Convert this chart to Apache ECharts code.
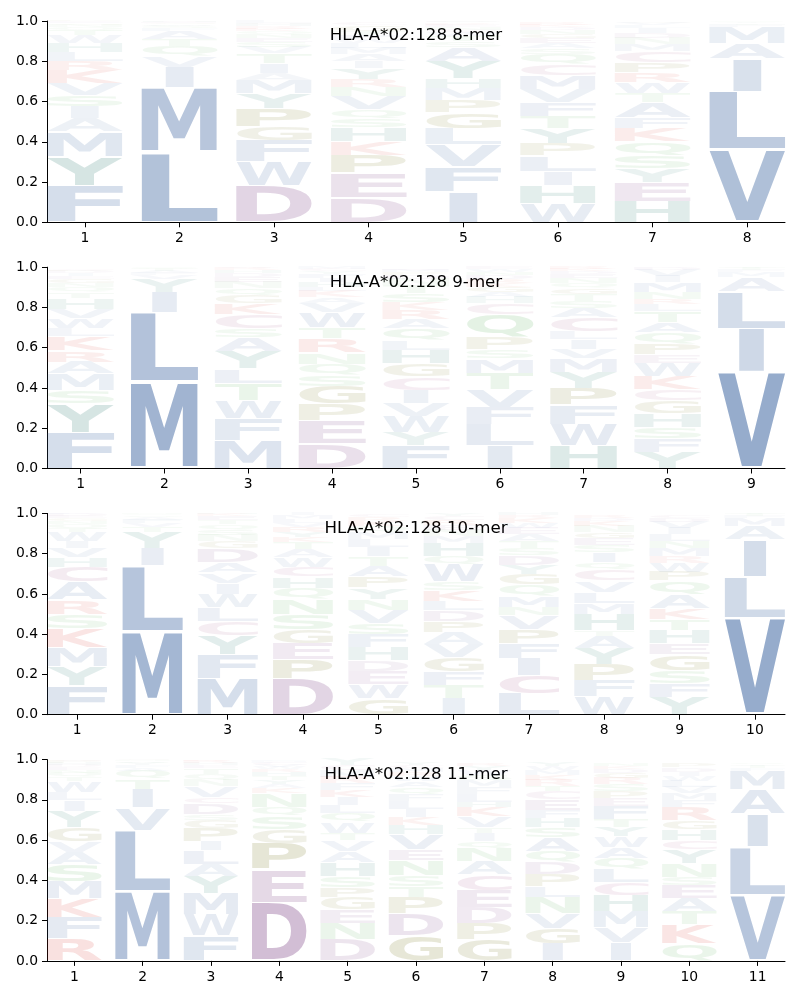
<!DOCTYPE html>
<html>
<head>
<meta charset="utf-8">
<script src="https://cdn.jsdelivr.net/npm/echarts@6/dist/echarts.min.js"></script>
<style>
html,body{margin:0;padding:0;background:#ffffff;}
#chart{width:800px;height:1000px;}
</style>
</head>
<body>
<div id="chart"></div>
<script>
// ---------------- DATA ----------------
const panelTitles = ['HLA-A*02:128 8-mer', 'HLA-A*02:128 9-mer', 'HLA-A*02:128 10-mer', 'HLA-A*02:128 11-mer'];
const yTickLabels = ['0.0', '0.2', '0.4', '0.6', '0.8', '1.0'];
const xTickLabels8 = ['1','2','3','4','5','6','7','8'];
const xTickLabels9 = ['1','2','3','4','5','6','7','8','9'];
const xTickLabels10 = ['1','2','3','4','5','6','7','8','9','10'];
const xTickLabels11 = ['1','2','3','4','5','6','7','8','9','10','11'];

// letters of each position, stacked bottom -> top
const seq8 = [
  'FYMAISVKRLHWTQNGEDPC',
  'LMIVQTAFSWGECH',
  'DWFGPYMAITVSENQKRHCL',
  'DEPKHSQVNRYIAMLWFTGC',
  'IFVLGPMHYASTWCNEKRQD',
  'WHILPYTFVMCQSAEGNDKR',
  'HEYSQKFATWRPCMNDILVG',
  'VLIAMFTYS'
];
const prob8 = [
  [.18,.145,.125,.065,.06,.055,.06,.065,.045,.045,.045,.04,.025,.015,.01,.008,.006,.004,.003,.002],
  [.35,.32,.1,.055,.05,.035,.04,.015,.01,.008,.006,.005,.003,.003],
  [.18,.12,.105,.07,.09,.075,.065,.035,.05,.05,.03,.025,.02,.02,.015,.012,.012,.01,.006,.01],
  [.125,.12,.09,.065,.07,.045,.045,.065,.045,.04,.055,.035,.035,.03,.025,.02,.02,.02,.03,.015],
  [.15,.125,.11,.08,.08,.06,.06,.05,.085,.07,.03,.025,.02,.012,.012,.01,.008,.005,.005,.003],
  [.095,.09,.07,.075,.06,.075,.06,.07,.065,.07,.055,.05,.03,.025,.025,.02,.02,.015,.01,.01],
  [.105,.095,.065,.065,.07,.065,.055,.075,.045,.055,.05,.05,.055,.035,.03,.025,.025,.015,.01,.005],
  [.36,.29,.165,.075,.08,.012,.008,.005,.005]
];

const seq9 = [
  'FYSMARKLWVHTQNGEIDPC',
  'MLIYVFATQS',
  'MFWTLYASCKGQNEDHRV',
  'DEPGSQNRTWVAKLHIFYCM',
  'FYWVICGHLQARKSTNDPME',
  'ILFVTMSPQCHAGKRDNWE',
  'HWFPYMVILCASTGQNEDKR',
  'YFSHGCKWEPQATLRNMIVD',
  'VILAMFTY'
];
const prob9 = [
  [.18,.145,.065,.08,.06,.055,.07,.04,.05,.045,.055,.03,.025,.02,.02,.015,.015,.01,.008,.005],
  [.43,.345,.1,.065,.02,.012,.01,.01,.005,.003],
  [.14,.11,.09,.085,.07,.085,.07,.045,.07,.055,.04,.035,.03,.025,.02,.015,.01,.005],
  [.125,.115,.08,.09,.055,.055,.055,.07,.055,.075,.045,.03,.03,.02,.025,.02,.02,.015,.01,.01],
  [.115,.065,.08,.065,.065,.065,.065,.07,.045,.06,.045,.045,.04,.045,.04,.03,.02,.015,.01,.005],
  [.115,.105,.085,.09,.08,.07,.045,.06,.115,.055,.03,.025,.025,.02,.02,.02,.015,.015,.01],
  [.115,.105,.095,.085,.08,.07,.045,.045,.04,.07,.045,.035,.035,.03,.025,.025,.02,.015,.01,.01],
  [.08,.07,.055,.07,.065,.055,.065,.065,.04,.055,.055,.05,.055,.035,.025,.035,.05,.03,.03,.015],
  [.48,.215,.185,.07,.025,.01,.01,.005]
];

const seq10 = [
  'FYMKSRACHVIWTQNGEDL',
  'MLIYTVFAQSN',
  'MFYCLWIVADGNSQTEKH',
  'DPEGSNQHCWATKYRVLMI',
  'GWEDHFSVNYPATILMQKRC',
  'ITFGVAPDLKSWQHMNERCY',
  'LCIFPVNMQGYDSTAEWKRH',
  'WFPYATHMLVCQISEGNKDR',
  'YFSGEHTKAQPWRMNLIVDC',
  'VLIAMFTY'
];
const prob10 = [
  [.145,.095,.095,.095,.07,.07,.09,.075,.045,.045,.035,.045,.02,.02,.015,.015,.01,.01,.005],
  [.415,.325,.085,.08,.025,.02,.018,.012,.01,.005,.005],
  [.18,.12,.095,.07,.07,.065,.055,.05,.05,.07,.035,.03,.03,.025,.02,.02,.01,.005],
  [.18,.095,.08,.07,.075,.075,.055,.055,.05,.045,.04,.035,.025,.025,.025,.02,.02,.02,.01],
  [.08,.07,.065,.055,.065,.065,.055,.065,.055,.055,.055,.055,.045,.045,.04,.035,.03,.025,.02,.015],
  [.08,.065,.07,.07,.065,.06,.055,.055,.045,.055,.04,.085,.04,.065,.035,.03,.025,.025,.02,.015],
  [.105,.09,.085,.075,.07,.07,.04,.055,.055,.055,.045,.045,.035,.035,.035,.03,.025,.025,.015,.01],
  [.09,.08,.08,.08,.06,.03,.08,.055,.055,.055,.055,.035,.05,.035,.035,.03,.03,.025,.015,.015],
  [.085,.07,.065,.08,.055,.065,.055,.055,.065,.07,.045,.045,.03,.04,.035,.035,.03,.03,.02,.015],
  [.48,.205,.185,.065,.04,.01,.01,.005]
];

const seq11 = [
  'RFKMSAVGYILWTQNEDHPC',
  'MLVITQAFYSNG',
  'FWMYALIPGSDCVNQTEHRK',
  'DEPGSQNKAYTHRWVCLMF',
  'DNEGPSHAVTWQLIKFRMCY',
  'GDPTSNEVHKILFQAWRMCY',
  'GPDECANQITVKHLFMSWYR',
  'IGVNLPDQASHFECTRKMWY',
  'IVMHCLQAWYTFEPSRGDKN',
  'QKTAESNYCHGRFMVLWIDP',
  'VLIAMFTYS'
];
const prob11 = [
  [.11,.105,.095,.085,.085,.06,.055,.07,.08,.055,.04,.055,.02,.02,.015,.015,.01,.01,.01,.005],
  [.345,.305,.11,.095,.05,.04,.015,.015,.01,.008,.004,.003],
  [.125,.105,.105,.085,.06,.07,.045,.065,.04,.03,.055,.03,.055,.03,.03,.03,.015,.01,.01,.005],
  [.29,.165,.13,.07,.065,.045,.07,.025,.02,.02,.02,.02,.015,.01,.01,.01,.005,.005,.005],
  [.105,.08,.07,.06,.05,.055,.07,.055,.055,.035,.055,.045,.04,.04,.035,.035,.03,.03,.025,.03],
  [.125,.11,.08,.055,.055,.075,.055,.075,.045,.04,.04,.04,.035,.035,.03,.025,.02,.02,.015,.015],
  [.105,.08,.08,.085,.08,.065,.065,.035,.04,.03,.055,.045,.025,.04,.035,.035,.025,.025,.02,.015],
  [.085,.075,.075,.08,.055,.06,.06,.055,.07,.05,.045,.04,.055,.04,.025,.03,.025,.025,.02,.02],
  [.09,.075,.08,.08,.065,.065,.055,.055,.055,.045,.04,.065,.04,.035,.035,.03,.025,.02,.015,.015],
  [.085,.095,.065,.065,.065,.04,.07,.07,.045,.055,.045,.065,.035,.035,.03,.03,.025,.02,.02,.02],
  [.325,.24,.165,.12,.095,.015,.01,.008,.007]
];

// ---------------- STYLE ----------------
const GROUP_RGB = {
  AILMFWV: [60, 100, 160],
  YH: [20, 110, 95],
  DE: [120, 60, 130],
  C: [150, 60, 120],
  KR: [210, 40, 30],
  PG: [100, 100, 0],
  STNQ: [70, 165, 70]
};
function letterRGB(ch) {
  for (const k in GROUP_RGB) if (k.indexOf(ch) >= 0) return GROUP_RGB[k];
  return [120, 120, 120];
}
const FONT_FAMILY = '"DejaVu Sans"';
const GLYPH_FONT = 'bold 100px "DejaVu Sans"';
const LETTER_W = 0.8;     // width of a glyph column in axis units
const NARROW = {I: 0.37}; // narrow glyphs
const VPAD = 0.05;

// glyph ink metrics (measured, with 'middle' baseline like zrender uses)
const metrics = {};
(function () {
  const cv = document.createElement('canvas');
  const ctx = cv.getContext('2d');
  ctx.font = GLYPH_FONT;
  ctx.textBaseline = 'middle';
  ctx.textAlign = 'left';
  'ACDEFGHIKLMNPQRSTVWY'.split('').forEach(function (ch) {
    const m = ctx.measureText(ch);
    metrics[ch] = {
      l: m.actualBoundingBoxLeft, r: m.actualBoundingBoxRight,
      a: m.actualBoundingBoxAscent, d: m.actualBoundingBoxDescent
    };
  });
})();

const panels = [
  {seq: seq8, prob: prob8, ticks: xTickLabels8},
  {seq: seq9, prob: prob9, ticks: xTickLabels9},
  {seq: seq10, prob: prob10, ticks: xTickLabels10},
  {seq: seq11, prob: prob11, ticks: xTickLabels11}
];

const GRID_LEFT = 47, GRID_W = 738, GRID_H = 201.3, GRID_STEP = 246.2, GRID_TOP0 = 21;

const grids = [], xAxes = [], yAxes = [], series = [], graphics = [];

panels.forEach(function (pn, pi) {
  const L = pn.seq.length;
  const top = GRID_TOP0 + GRID_STEP * pi;
  grids.push({left: GRID_LEFT, top: top, width: GRID_W, height: GRID_H, containLabel: false});
  const tickVals = pn.ticks.map(function (t) { return Number(t); });
  xAxes.push({
    type: 'value', gridIndex: pi, min: 0.6, max: L + 0.4,
    axisLine: {show: true, onZero: false, lineStyle: {color: '#000', width: 1}},
    axisTick: {show: true, length: 5, inside: false, lineStyle: {color: '#000', width: 1}, customValues: tickVals},
    axisLabel: {show: true, customValues: tickVals, margin: 9, color: '#000', fontFamily: FONT_FAMILY, fontSize: 13.9,
      formatter: function (v) { return pn.ticks[Math.round(v) - 1]; }},
    splitLine: {show: false}
  });
  yAxes.push({
    type: 'value', gridIndex: pi, min: 0, max: 1, interval: 0.2,
    axisLine: {show: true, lineStyle: {color: '#000', width: 1}},
    axisTick: {show: true, length: 5, lineStyle: {color: '#000', width: 1}},
    axisLabel: {show: true, margin: 9, color: '#000', fontFamily: FONT_FAMILY, fontSize: 13.9,
      formatter: function (v) { return yTickLabels[Math.round(v * 5)]; }},
    splitLine: {show: false}
  });

  const data = [], glyphs = [];
  pn.seq.forEach(function (letters, ci) {
    let base = 0;
    letters.split('').forEach(function (ch, li) {
      const p = pn.prob[ci][li];
      data.push([ci + 1, base, base + p, p]);
      glyphs.push(ch);
      base += p;
    });
  });

  series.push({
    type: 'custom', xAxisIndex: pi, yAxisIndex: pi, silent: true, animation: false,
    clip: false,
    data: data,
    renderItem: function (params, api) {
      const ch = glyphs[params.dataIndex];
      const x = api.value(0), y0 = api.value(1), y1 = api.value(2), p = api.value(3);
      const h = y1 - y0;
      const pad = h * VPAD / 2;
      const half = LETTER_W / 2 * (NARROW[ch] || 1);
      const tl = api.coord([x - half, y1 - pad]);
      const br = api.coord([x + half, y0 + pad]);
      const w = br[0] - tl[0], hh = br[1] - tl[1];
      if (hh < 0.2) return null;
      const m = metrics[ch];
      const sx = w / (m.l + m.r), sy = hh / (m.a + m.d);
      const rgb = letterRGB(ch);
      const alpha = Math.min(0.9, 0.02 + 1.08 * p);
      return {
        type: 'text', x: tl[0] + m.l * sx, y: tl[1] + m.a * sy, scaleX: sx, scaleY: sy, silent: true,
        style: {text: ch, x: 0, y: 0, font: GLYPH_FONT, align: 'left', verticalAlign: 'middle',
          fill: 'rgba(' + rgb[0] + ',' + rgb[1] + ',' + rgb[2] + ',' + alpha.toFixed(3) + ')'}
      };
    }
  });

  graphics.push({
    type: 'text', x: GRID_LEFT + GRID_W / 2, y: top + 15, silent: true,
    style: {text: panelTitles[pi], fill: '#000', font: '16.67px "DejaVu Sans"', align: 'center', verticalAlign: 'middle'}
  });
});

const chart = echarts.init(document.getElementById('chart'), null, {renderer: 'canvas', width: 800, height: 1000});
chart.setOption({
  animation: false,
  backgroundColor: '#ffffff',
  grid: grids,
  xAxis: xAxes,
  yAxis: yAxes,
  series: series,
  graphic: graphics
});
</script>
</body>
</html>
